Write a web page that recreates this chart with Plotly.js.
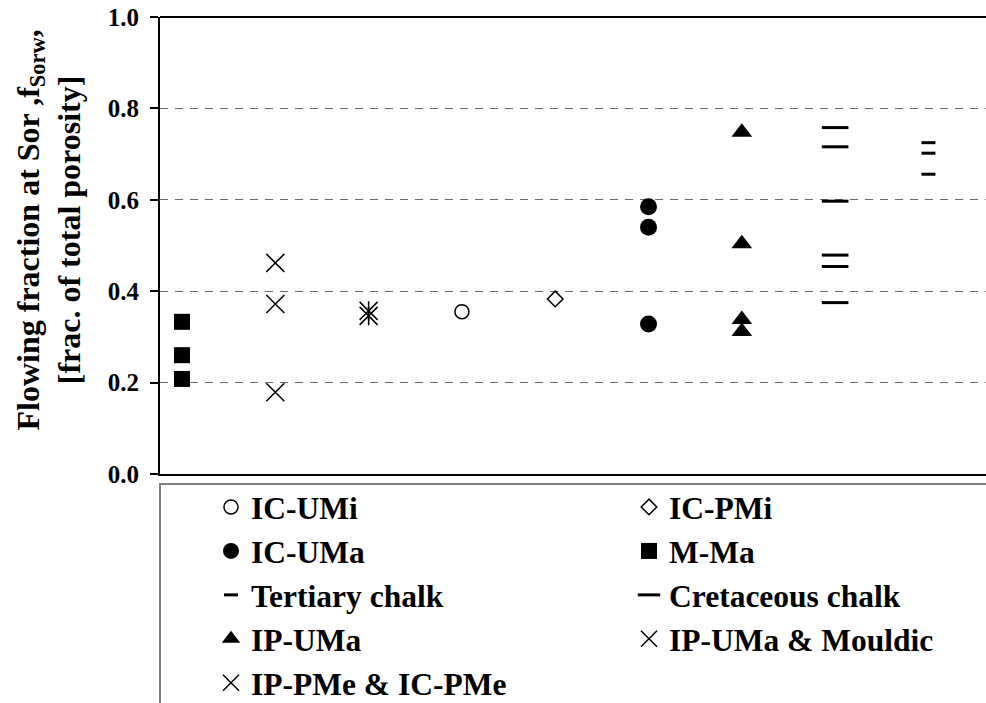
<!DOCTYPE html>
<html>
<head>
<meta charset="utf-8">
<script src="https://cdn.plot.ly/plotly-3.0.1.min.js"></script>
<style>
html, body { margin: 0; padding: 0; overflow: hidden; background: #fff; }
#chart { width: 1200px; height: 760px; }
</style>
</head>
<body>
<div id="chart"></div>
<script>
// Group positions along the (unlabelled) x axis
const groups = ['M-Ma', 'IP-PMe & IC-PMe', 'IP-UMa & Mouldic', 'IC-UMi', 'IC-PMi',
                'IC-UMa', 'IP-UMa', 'Cretaceous chalk', 'Tertiary chalk'];

// Flowing fraction values
const valsICUMi = [0.355];
const valsICPMi = [0.383];
const valsICUMa = [0.585, 0.540, 0.328];
const valsMMa = [0.333, 0.260, 0.208];
const valsTertiary = [0.725, 0.702, 0.656];
const valsCretaceous = [0.758, 0.716, 0.597, 0.479, 0.454, 0.375];
const valsIPUMa = [0.748, 0.504, 0.338, 0.312];
const valsIPUMaMouldic = [0.357, 0.346];
const valsIPPMe = [0.462, 0.372, 0.179];

const yTicks = [0, 0.2, 0.4, 0.6, 0.8, 1.0];
const yTickText = ['0.0', '0.2', '0.4', '0.6', '0.8', '1.0'];

function xs(name, vals) {
  const p = groups.indexOf(name) + 1;
  return vals.map(() => p);
}

const FONT = 'Liberation Serif, Times New Roman, serif';

function tr(name, vals, marker, extra) {
  return Object.assign({
    type: 'scatter', mode: 'markers', name: name,
    x: xs(name, vals), y: vals, marker: marker, cliponaxis: false
  }, extra || {});
}

const traces = [
  tr('IC-UMi', valsICUMi, {symbol: 'circle-open', size: 14, color: '#000', line: {width: 1.5, color: '#000'}}),
  tr('IC-PMi', valsICPMi, {symbol: 'diamond-open', size: 12, color: '#000', line: {width: 1.5, color: '#000'}}),
  tr('IC-UMa', valsICUMa, {symbol: 'circle', size: 17, color: '#000'}),
  tr('M-Ma', valsMMa, {symbol: 'square', size: 16, color: '#000'}),
  tr('Tertiary chalk', valsTertiary, {symbol: 'line-ew', size: 10, color: '#000', line: {width: 3, color: '#000'}}),
  tr('Cretaceous chalk', valsCretaceous, {symbol: 'line-ew', size: 19, color: '#000', line: {width: 3, color: '#000'}}),
  tr('IP-UMa', valsIPUMa, {symbol: 'triangle-up', size: 18, color: '#000'}),
  tr('IP-UMa & Mouldic', valsIPUMaMouldic, {symbol: 'x-thin-open', size: 18, color: '#000', line: {width: 1.5, color: '#000'}}),
  tr('IP-PMe & IC-PMe', valsIPPMe, {symbol: 'x-thin-open', size: 18, color: '#000', line: {width: 1.5, color: '#000'}}),
  tr('IP-UMa & Mouldic', valsIPUMaMouldic, {symbol: 'line-ns-open', size: 13.6, color: '#000', line: {width: 1.5, color: '#000'}}, {showlegend: false})
];

const PW = 1000; // plot area width in px (extends past the visible window)

const layout = {
  width: 1200, height: 760,
  margin: {l: 160, r: 40, t: 17, b: 286, autoexpand: false},
  paper_bgcolor: '#fff', plot_bgcolor: '#fff',
  showlegend: true,
  xaxis: {
    range: [0.764, 0.764 + PW / 93.3], showline: true, linewidth: 2, linecolor: '#000',
    showgrid: false, zeroline: false, showticklabels: false, ticks: ''
  },
  yaxis: {
    range: [0, 1], tickmode: 'array', tickvals: yTicks, ticktext: yTickText,
    ticks: 'outside', ticklen: 8, tickwidth: 2, tickcolor: '#000',
    showline: true, linewidth: 2, linecolor: '#000',
    showgrid: true, gridcolor: '#6a6a6a', gridwidth: 1, griddash: '8px,7px',
    zeroline: false, ticklabelstandoff: 6,
    tickfont: {family: FONT, size: 25, color: '#000', weight: 'bold'}
  },
  legend: {
    orientation: 'h', xref: 'paper', yref: 'paper',
    x: (211 - 160) / PW, y: -(480 - 474) / 457, xanchor: 'left', yanchor: 'top',
    entrywidth: 373, entrywidthmode: 'pixels',
    bgcolor: 'rgba(0,0,0,0)', borderwidth: 0,
    font: {family: FONT, size: 31.5, color: '#000', weight: 'bold'}
  },
  shapes: [
    {type: 'line', xref: 'paper', yref: 'paper', x0: 0, x1: 1, y0: 1, y1: 1,
     line: {color: '#000', width: 2}},
    {type: 'rect', xref: 'paper', yref: 'paper', x0: 0, x1: 1.1, y0: -(484 - 474) / 457, y1: -0.7,
     line: {color: '#808080', width: 2}, fillcolor: 'rgba(0,0,0,0)'}
  ],
  annotations: [{
    text: 'Flowing fraction at Sor ,f<sub>Sorw</sub>,<br>[frac. of total porosity]',
    textangle: -90, xref: 'paper', yref: 'paper',
    x: (48.5 - 160) / PW, y: (474 - 230) / 457, xanchor: 'center', yanchor: 'middle',
    showarrow: false, align: 'center',
    font: {family: FONT, size: 32, color: '#000', weight: 'bold'}
  }]
};

Plotly.newPlot('chart', traces, layout, {displayModeBar: false, staticPlot: true});
</script>
</body>
</html>
